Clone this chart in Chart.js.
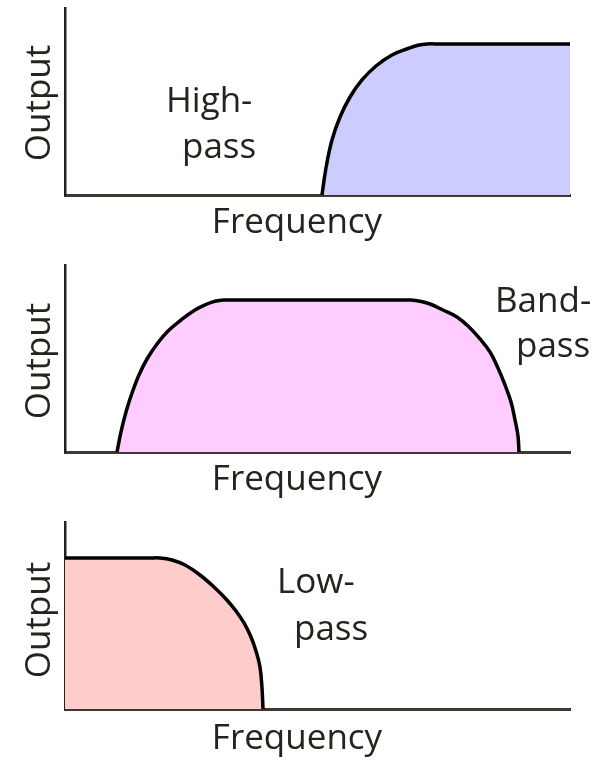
<!DOCTYPE html>
<html>
<head>
<meta charset="utf-8">
<script src="https://cdn.jsdelivr.net/npm/chart.js@4.4.1/dist/chart.umd.min.js"></script>
<style>
  html, body { margin: 0; padding: 0; background: #ffffff; }
  body { width: 599px; height: 760px; position: relative; overflow: hidden; }
  .panel { position: absolute; left: 0; width: 599px; height: 250px; }
</style>
</head>
<body>
<div class="panel" style="top:0px"><canvas id="c1" width="599" height="250"></canvas></div>
<div class="panel" style="top:257px"><canvas id="c2" width="599" height="250"></canvas></div>
<div class="panel" style="top:514px"><canvas id="c3" width="599" height="250"></canvas></div>
<script>
// ---- Data (Frequency 0..100, Output 0..100) ----
const axisTitleX = "Frequency";
const axisTitleY = "Output";

const highPassFreq = [50.89, 51.68, 52.87, 54.46, 56.44, 58.81, 61.58, 64.75, 67.92, 69.90, 71.68, 74.26, 100];
const highPassOut  = [0,     14.44, 29.41, 41.71, 52.41, 61.50, 68.98, 74.87, 78.34, 80.05, 80.75, 80.75, 80.75];

const bandPassFreq = [10.30, 11.09, 12.08, 13.27, 14.65, 16.24, 18.22, 20.40, 22.97, 25.74, 28.12, 29.70, 31.49, 34.26,
                      65.94, 68.51, 70.30, 72.28, 74.85, 77.62, 80.00, 82.18, 84.16, 85.74, 87.13, 88.32, 89.11, 89.70, 89.90];
const bandPassOut  = [0,     10.70, 21.39, 31.55, 41.18, 49.73, 57.75, 64.71, 70.59, 75.94, 79.14, 80.64, 81.28, 81.28,
                      81.28, 81.28, 80.64, 79.14, 75.94, 72.19, 66.84, 60.43, 53.48, 44.92, 35.83, 26.74, 17.11, 8.56,  0];

const lowPassFreq = [0,     16.83, 18.81, 21.19, 23.76, 26.73, 29.50, 31.88, 33.86, 35.45, 36.83, 37.82, 38.61, 39.01, 39.21];
const lowPassOut  = [80.75, 80.75, 80.75, 79.68, 77.01, 71.66, 65.24, 58.82, 52.41, 45.99, 38.50, 31.02, 22.46, 11.23, 0];

const highPassLabel = ["High-", "pass"];
const bandPassLabel = ["Band-", "pass"];
const lowPassLabel  = ["Low-", "pass"];

// ---- helpers ----
function toPoints(xs, ys) { return xs.map((x, i) => ({ x: x, y: ys[i] })); }

const FONT = '35px "Open Sans", "DejaVu Sans", sans-serif';
const TEXT_COLOR = '#26231d';

const textPlugin = {
  id: 'panelText',
  afterDraw(chart, args, opts) {
    const ctx = chart.ctx;
    ctx.save();
    ctx.fillStyle = TEXT_COLOR;
    ctx.font = FONT;
    ctx.textBaseline = 'alphabetic';
    ctx.save();
    ctx.translate(opts.yTitle.x, opts.yTitle.y);
    ctx.rotate(-Math.PI / 2);
    ctx.textAlign = 'center';
    ctx.fillText(axisTitleY, 0, 0);
    ctx.restore();
    ctx.textAlign = 'center';
    ctx.fillText(axisTitleX, opts.xTitle.x, opts.xTitle.y);
    ctx.textAlign = 'left';
    opts.lines.forEach((l, i) => ctx.fillText(opts.label[i], l.x, l.y));
    ctx.restore();
  }
};

function makeChart(id, xs, ys, fillColor, label, textOpts) {
  return new Chart(document.getElementById(id), {
    type: 'line',
    data: {
      datasets: [{
        data: toPoints(xs, ys),
        borderColor: '#000000',
        borderWidth: 3.5,
        backgroundColor: fillColor,
        fill: 'origin',
        pointRadius: 0,
        tension: 0.4,
        clip: false
      }]
    },
    options: {
      responsive: false,
      animation: false,
      events: [],
      layout: { padding: { left: 65, right: 29, top: 8, bottom: 55 } },
      plugins: {
        legend: { display: false },
        tooltip: { enabled: false },
        panelText: Object.assign({ label: label }, textOpts)
      },
      scales: {
        x: {
          type: 'linear', min: 0, max: 100,
          grid: { display: false, drawTicks: false },
          ticks: { display: false },
          border: { display: true, color: '#3e3a31', width: 3 },
          afterFit(s) { s.height = 0; }
        },
        y: {
          type: 'linear', min: 0, max: 100,
          grid: { display: false, drawTicks: false },
          ticks: { display: false },
          border: { display: true, color: '#222222', width: 2.5 },
          afterFit(s) { s.width = 0; }
        }
      }
    },
    plugins: [textPlugin]
  });
}

makeChart('c1', highPassFreq, highPassOut, 'rgb(204,204,255)', highPassLabel, {
  yTitle: { x: 50, y: 103 }, xTitle: { x: 297, y: 233 },
  lines: [{ x: 166, y: 112 }, { x: 182, y: 158 }]
});
makeChart('c2', bandPassFreq, bandPassOut, 'rgb(255,204,255)', bandPassLabel, {
  yTitle: { x: 50, y: 104 }, xTitle: { x: 297, y: 233 },
  lines: [{ x: 495, y: 55 }, { x: 516, y: 100 }]
});
makeChart('c3', lowPassFreq, lowPassOut, 'rgb(255,204,204)', lowPassLabel, {
  yTitle: { x: 50, y: 106 }, xTitle: { x: 297, y: 235 },
  lines: [{ x: 277, y: 79 }, { x: 294, y: 126 }]
});
</script>
</body>
</html>
